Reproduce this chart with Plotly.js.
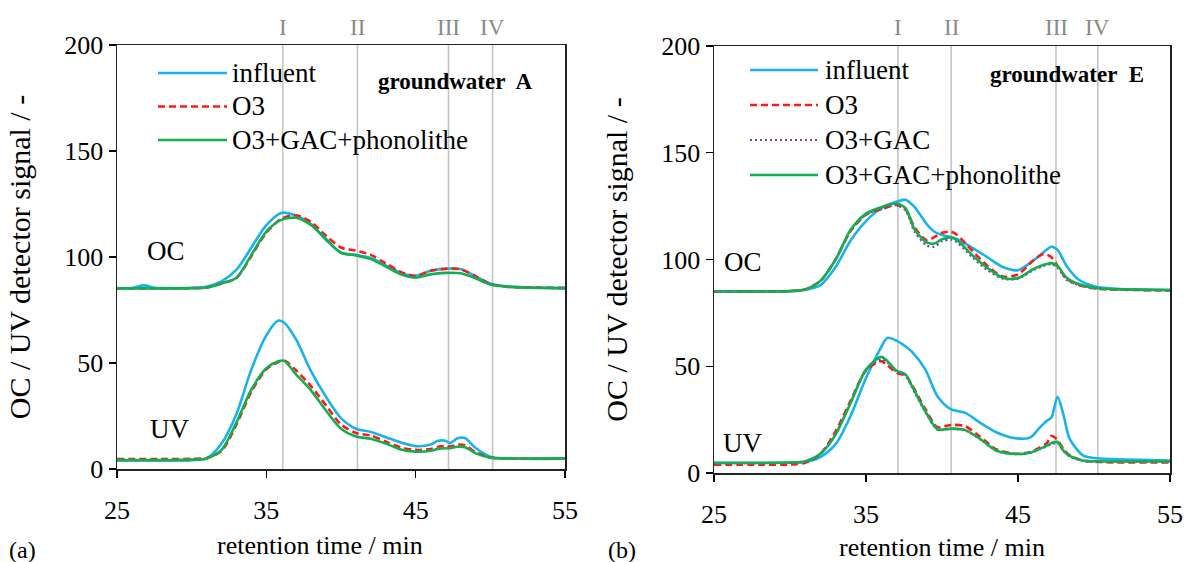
<!DOCTYPE html>
<html>
<head>
<meta charset="utf-8">
<script src="https://cdn.plot.ly/plotly-3.0.1.min.js"></script>
<style>
  html, body { margin: 0; padding: 0; background: #fff; }
  #chart { width: 1187px; height: 562px; }
</style>
</head>
<body>
<div id="chart"></div>
<script>
// ---------- groundwater A : organic carbon (OC) ----------
const tA_oc = [25, 26, 26.8, 27.5, 28, 30, 31, 32, 33, 34, 35, 36, 37, 38, 39, 40, 41, 42, 43, 44, 45, 46, 47, 48, 49, 50, 51, 52, 55];
const A_oc_influent = [85.3, 85.4, 86.6, 85.5, 85.3, 85.4, 86.0, 88.5, 94.0, 104.5, 115.0, 120.8, 119.5, 115.5, 108.0, 102.0, 101.0, 99.5, 96.0, 92.5, 91.2, 93.5, 94.5, 94.3, 91.0, 87.5, 86.2, 85.8, 85.3];
const A_oc_o3       = [85.2, 85.2, 85.2, 85.2, 85.2, 85.3, 85.6, 87.5, 90.2, 100.5, 111.5, 118.0, 119.7, 116.5, 110.0, 104.5, 103.0, 101.0, 97.0, 93.0, 91.0, 93.5, 94.4, 94.2, 91.0, 87.3, 86.1, 85.7, 85.4];
const A_oc_o3gacph  = [85.2, 85.2, 85.2, 85.2, 85.2, 85.3, 85.6, 87.5, 90.2, 101.0, 112.0, 117.5, 118.5, 115.0, 108.5, 102.0, 100.7, 99.0, 95.5, 91.8, 90.2, 91.8, 92.5, 92.3, 90.0, 87.0, 86.0, 85.6, 85.3];

// ---------- groundwater A : UV absorbance ----------
const tA_uv = [25, 28, 30, 31, 32, 33, 34, 35, 35.8, 36.2, 37, 38, 39, 40, 41, 42, 43, 44, 45, 46, 46.5, 47, 47.3, 47.8, 48.3, 49, 50, 51, 55];
const A_uv_influent = [4.0, 4.0, 4.2, 5.0, 12.0, 26.0, 47.0, 63.0, 70.0, 69.0, 61.0, 46.0, 34.0, 24.0, 19.0, 17.5, 15.0, 12.5, 10.8, 11.5, 13.3, 13.3, 12.2, 14.5, 14.6, 10.0, 5.8, 5.0, 4.8];
const A_uv_o3       = [4.7, 4.7, 4.8, 5.2, 8.5, 21.0, 36.5, 47.0, 50.5, 51.2, 46.5, 39.0, 30.0, 21.0, 17.0, 15.8, 13.0, 10.2, 9.0, 9.4, 10.5, 10.8, 10.6, 11.5, 11.2, 8.0, 5.4, 5.0, 4.8];
const A_uv_o3gacph  = [4.2, 4.2, 4.4, 5.0, 9.0, 22.0, 37.5, 47.5, 50.8, 51.0, 44.5, 37.0, 27.5, 19.0, 15.3, 14.3, 12.0, 9.2, 8.2, 8.6, 9.5, 9.8, 9.8, 10.5, 10.3, 7.5, 5.3, 5.0, 5.0];

// ---------- groundwater E : organic carbon (OC) ----------
const tE_oc = [25, 28, 30, 31, 32, 33, 34, 35, 36, 37, 37.6, 38.2, 39, 39.5, 40, 40.6, 41, 42, 43, 44, 45, 46, 46.7, 47.2, 47.6, 48.2, 49, 50, 51, 52, 55];
const E_oc_influent = [85.0, 85.0, 85.2, 85.8, 88.0, 96.5, 109.0, 118.0, 124.0, 127.0, 128.0, 124.5, 116.5, 113.0, 111.5, 110.5, 109.5, 105.5, 101.0, 96.5, 95.0, 99.5, 103.5, 106.0, 104.5, 97.0, 90.5, 87.5, 86.5, 86.0, 85.7];
const E_oc_o3       = [85.0, 85.0, 85.2, 86.0, 90.0, 100.0, 113.5, 121.0, 123.5, 125.5, 123.5, 115.0, 109.0, 110.5, 112.5, 113.0, 111.5, 104.0, 97.0, 92.0, 93.0, 99.5, 102.6, 101.0, 97.0, 91.0, 88.0, 86.5, 86.0, 85.8, 85.5];
const E_oc_o3gac    = [85.0, 85.0, 85.2, 86.0, 90.0, 100.0, 113.5, 121.0, 123.5, 125.5, 123.0, 113.0, 106.5, 106.0, 108.5, 109.3, 108.0, 101.0, 95.0, 91.0, 91.0, 95.0, 97.0, 97.8, 96.2, 90.5, 88.0, 86.5, 86.0, 85.8, 85.6];
const E_oc_o3gacph  = [85.0, 85.0, 85.2, 86.0, 90.0, 100.0, 114.0, 121.5, 124.5, 126.2, 124.0, 114.0, 108.0, 107.5, 109.5, 110.3, 109.0, 102.0, 96.0, 91.5, 91.3, 95.5, 97.5, 98.3, 97.0, 91.5, 88.5, 86.8, 86.2, 86.0, 85.7];

// ---------- groundwater E : UV absorbance ----------
const tE_uv = [25, 28, 30, 31, 32, 33, 34, 35, 36, 36.4, 37, 37.6, 38, 38.9, 39.7, 40.6, 41.5, 42.5, 43.6, 44.9, 45.8, 46.4, 46.9, 47.2, 47.6, 48, 48.4, 49.3, 50, 51.2, 55];
const E_uv_influent = [4.8, 4.8, 4.9, 5.2, 7.5, 13.5, 27.0, 44.5, 59.0, 63.3, 62.0, 59.3, 57.0, 48.5, 36.0, 29.8, 28.3, 23.6, 19.0, 16.2, 16.6, 21.0, 24.5, 26.0, 35.7, 27.0, 16.0, 8.1, 7.0, 6.5, 5.8];
const E_uv_o3       = [3.9, 3.9, 4.0, 4.8, 9.0, 19.5, 34.0, 48.0, 52.4, 50.5, 47.0, 45.5, 41.5, 30.0, 21.5, 22.5, 22.0, 17.0, 11.0, 9.0, 9.8, 11.8, 14.0, 17.3, 15.5, 11.0, 8.3, 5.8, 5.3, 5.0, 5.0];
const E_uv_o3gac    = [4.6, 4.6, 4.8, 5.4, 9.0, 18.5, 33.0, 48.0, 53.2, 51.8, 47.5, 45.8, 40.5, 28.5, 20.3, 20.6, 20.0, 15.8, 10.3, 8.8, 9.4, 11.0, 12.5, 13.5, 14.0, 10.2, 7.8, 5.6, 5.4, 5.3, 5.3];
const E_uv_o3gacph  = [4.7, 4.7, 4.9, 5.5, 9.0, 18.0, 33.0, 48.5, 54.4, 52.5, 48.0, 46.2, 41.0, 29.0, 20.5, 20.8, 20.2, 16.0, 10.4, 8.9, 9.5, 11.2, 12.8, 14.0, 14.5, 10.4, 8.0, 5.7, 5.5, 5.4, 5.4];

// Retention time windows of the fractions (I–IV)
const regionLabels = ['I', 'II', 'III', 'IV'];
const regionsA = [36.1, 41.1, 47.2, 50.15];
const regionsE = [37.1, 40.6, 47.5, 50.25];

const seriesNames = ['influent', 'O3', 'O3+GAC', 'O3+GAC+phonolithe'];

const xTicks = [25, 35, 45, 55];
const yTicks = [0, 50, 100, 150, 200];

const xTitle = 'retention time / min';
const yTitle = 'OC / UV detector signal / -';

// ---------- styling ----------
const FONT = '"Times New Roman", "Liberation Serif", "DejaVu Serif", serif';
const W = 1187, H = 562;
const px = v => v / W;             // horizontal pixel -> paper
const py = v => 1 - v / H;         // vertical pixel -> paper

const styles = {
  'influent':          {color: '#19b2ec', dash: 'solid',   width: 2.6},
  'O3':                {color: '#ff1a1a', dash: '7px,4px', width: 2.6},
  'O3+GAC':            {color: '#7a3fb8', dash: '2px,3px', width: 2.2},
  'O3+GAC+phonolithe': {color: '#14ad4f', dash: 'solid',   width: 2.6}
};

function trace(t, y, name, xa, ya) {
  const s = styles[name];
  return {
    x: t, y: y, name: name, xaxis: xa, yaxis: ya,
    type: 'scatter', mode: 'lines', showlegend: false, hoverinfo: 'skip',
    line: {color: s.color, dash: s.dash, width: s.width, shape: 'spline', smoothing: 0.8}
  };
}

// drawing order: influent, then treated samples on top
const data = [
  trace(tA_oc, A_oc_influent, 'influent', 'x', 'y'),
  trace(tA_oc, A_oc_o3, 'O3', 'x', 'y'),
  trace(tA_oc, A_oc_o3gacph, 'O3+GAC+phonolithe', 'x', 'y'),
  trace(tA_uv, A_uv_influent, 'influent', 'x', 'y'),
  trace(tA_uv, A_uv_o3, 'O3', 'x', 'y'),
  trace(tA_uv, A_uv_o3gacph, 'O3+GAC+phonolithe', 'x', 'y'),

  trace(tE_oc, E_oc_influent, 'influent', 'x2', 'y2'),
  trace(tE_oc, E_oc_o3, 'O3', 'x2', 'y2'),
  trace(tE_oc, E_oc_o3gac, 'O3+GAC', 'x2', 'y2'),
  trace(tE_oc, E_oc_o3gacph, 'O3+GAC+phonolithe', 'x2', 'y2'),
  trace(tE_uv, E_uv_influent, 'influent', 'x2', 'y2'),
  trace(tE_uv, E_uv_o3, 'O3', 'x2', 'y2'),
  trace(tE_uv, E_uv_o3gac, 'O3+GAC', 'x2', 'y2'),
  trace(tE_uv, E_uv_o3gacph, 'O3+GAC+phonolithe', 'x2', 'y2')
];

function xAxis(domain, anchor, withTitle) {
  const ax = {
    domain: domain, anchor: anchor, range: [25, 55],
    tickvals: xTicks, ticktext: xTicks.map(String),
    ticks: 'outside', ticklen: 7, tickwidth: 1.3, tickcolor: '#000',
    ticklabelstandoff: 10,
    showline: true, mirror: true, linecolor: '#222', linewidth: 1.5,
    showgrid: false, zeroline: false,
    tickfont: {family: FONT, size: 26, color: '#000'}
  };
  if (withTitle) ax.title = {text: xTitle, font: {family: FONT, size: 26, color: '#000'}, standoff: 12};
  return ax;
}
function yAxis(domain, anchor) {
  return {
    domain: domain, anchor: anchor, range: [0, 200],
    tickvals: yTicks, ticktext: yTicks.map(String),
    ticks: 'outside', ticklen: 7, tickwidth: 1.3, tickcolor: '#000',
    showline: true, mirror: true, linecolor: '#222', linewidth: 1.5,
    showgrid: false, zeroline: false,
    tickfont: {family: FONT, size: 26, color: '#000'},
    title: {text: yTitle, font: {family: FONT, size: 30, color: '#000'}, standoff: 25}
  };
}

const shapes = [];
const annotations = [];

// fraction boundaries (grey verticals) and their roman labels
function addRegions(vals, xref) {
  vals.forEach((v, i) => {
    shapes.push({type: 'line', layer: 'below', xref: xref, yref: xref.replace('x', 'y'),
      x0: v, x1: v, y0: 0, y1: 200, line: {color: '#c4c4c4', width: 1.6}});
    annotations.push({xref: xref, yref: 'paper', x: v, y: py(27), text: regionLabels[i],
      showarrow: false, xanchor: 'center', yanchor: 'middle',
      font: {family: FONT, size: 23, color: '#8a8a8a'}});
  });
}
addRegions(regionsA, 'x');
addRegions(regionsE, 'x2');

// white backing behind the legend blocks
function whiteBox(x0, y0, x1, y1) {
  shapes.push({type: 'rect', layer: 'below', xref: 'paper', yref: 'paper',
    x0: px(x0), x1: px(x1), y0: py(y1), y1: py(y0),
    fillcolor: '#ffffff', line: {width: 0}});
}
whiteBox(150, 53, 545, 96);
whiteBox(150, 96, 470, 157);
whiteBox(745, 53, 1150, 98);
whiteBox(745, 98, 1080, 193);

// legend entries
function legendBlock(names, xLine0, xLine1, xText, yStart, step) {
  names.forEach((n, i) => {
    const s = styles[n];
    const yy = yStart + i * step;
    shapes.push({type: 'line', xref: 'paper', yref: 'paper',
      x0: px(xLine0), x1: px(xLine1), y0: py(yy), y1: py(yy),
      line: {color: s.color, dash: s.dash, width: s.width}});
    annotations.push({xref: 'paper', yref: 'paper', x: px(xText), y: py(yy),
      text: n, showarrow: false, xanchor: 'left', yanchor: 'middle',
      font: {family: FONT, size: 27, color: '#000'}});
  });
}
legendBlock(['influent', 'O3', 'O3+GAC+phonolithe'], 158, 227, 230, 73, 33.5);
legendBlock(['influent', 'O3', 'O3+GAC', 'O3+GAC+phonolithe'], 750, 818, 823, 70, 35);

// x title of the left panel sits a little left of the axis centre
annotations.push({xref: 'paper', yref: 'paper', x: px(320), y: py(545), text: xTitle,
  showarrow: false, xanchor: 'center', yanchor: 'middle', font: {family: FONT, size: 26, color: '#000'}});

// sample names
annotations.push({xref: 'paper', yref: 'paper', x: px(455), y: py(82), text: '<b>groundwater\u00a0 A</b>',
  showarrow: false, xanchor: 'center', yanchor: 'middle', font: {family: FONT, size: 23, color: '#000'}});
annotations.push({xref: 'paper', yref: 'paper', x: px(1067), y: py(75), text: '<b>groundwater\u00a0 E</b>',
  showarrow: false, xanchor: 'center', yanchor: 'middle', font: {family: FONT, size: 23, color: '#000'}});

// signal labels
[['x', 'y', 28.3, 103, 'OC'], ['x', 'y', 28.5, 19, 'UV'],
 ['x2', 'y2', 26.9, 99, 'OC'], ['x2', 'y2', 26.9, 14, 'UV']].forEach(a => {
  annotations.push({xref: a[0], yref: a[1], x: a[2], y: a[3], text: a[4], showarrow: false,
    xanchor: 'center', yanchor: 'middle', font: {family: FONT, size: 27, color: '#000'}});
});

// panel letters
annotations.push({xref: 'paper', yref: 'paper', x: px(22), y: py(550), text: '(a)', showarrow: false,
  xanchor: 'center', yanchor: 'middle', font: {family: FONT, size: 24, color: '#000'}});
annotations.push({xref: 'paper', yref: 'paper', x: px(622), y: py(550), text: '(b)', showarrow: false,
  xanchor: 'center', yanchor: 'middle', font: {family: FONT, size: 24, color: '#000'}});

const layout = {
  width: W, height: H,
  margin: {l: 0, r: 0, t: 0, b: 0},
  paper_bgcolor: '#ffffff', plot_bgcolor: 'rgba(0,0,0,0)',
  showlegend: false,
  font: {family: FONT},
  xaxis: xAxis([px(117), px(565)], 'y', false),
  yaxis: yAxis([py(469), py(45)], 'x'),
  xaxis2: xAxis([px(714), px(1170)], 'y2', true),
  yaxis2: yAxis([py(473), py(46)], 'x2'),
  shapes: shapes,
  annotations: annotations
};

Plotly.newPlot('chart', data, layout, {displayModeBar: false, staticPlot: true});
</script>
</body>
</html>
